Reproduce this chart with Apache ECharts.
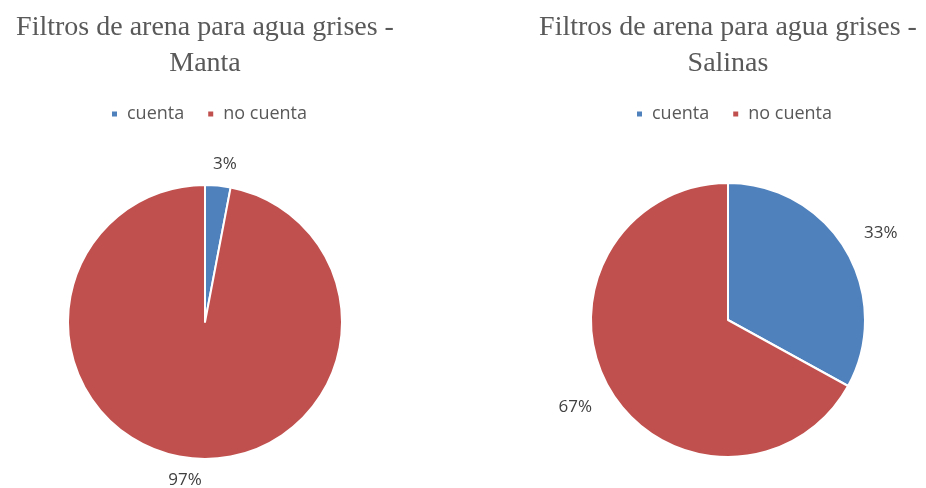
<!DOCTYPE html>
<html>
<head>
<meta charset="utf-8">
<script src="https://cdn.jsdelivr.net/npm/echarts@6/dist/echarts.min.js"></script>
<style>
  html, body { margin: 0; padding: 0; background: #fff; }
  #chart { width: 926px; height: 488px; }
</style>
</head>
<body>
<div id="chart"></div>
<script>
const categories = ['cuenta', 'no cuenta'];
const mantaValues = [3, 97];
const salinasValues = [33, 67];
const titles = ['Filtros de arena para agua grises -\nManta', 'Filtros de arena para agua grises -\nSalinas'];
const colors = ['#4F81BD', '#C0504D'];

const chart = echarts.init(document.getElementById('chart'));

// put the percentage just outside the slice, centred on its radial line (like Excel "outside end")
function outsideEnd(center) {
  return function (params) {
    const r = params.labelRect;
    const ax = params.align === 'right' ? r.x + r.width : r.x;
    const ay = r.y + r.height / 2;
    const vx = ax - center[0], vy = ay - center[1];
    const d = Math.sqrt(vx * vx + vy * vy);
    const ux = vx / d, uy = vy / d;
    const nd = d + (r.width / 2) * Math.abs(ux);
    return { x: center[0] + ux * nd, y: center[1] + uy * nd, align: 'center', verticalAlign: 'middle' };
  };
}

function pieSeries(name, values, center) {
  return {
    name: name,
    type: 'pie',
    radius: 137,
    center: center,
    startAngle: 90,
    clockwise: true,
    avoidLabelOverlap: false,
    data: categories.map((c, i) => ({ name: c, value: values[i] })),
    itemStyle: { borderColor: '#fff', borderWidth: 2 },
    label: {
      show: true,
      position: 'outside',
      formatter: '{d}%',
      color: '#404040',
      fontFamily: 'Open Sans',
      fontSize: 17
    },
    labelLine: { show: false, length: 20, length2: 0 },
    labelLayout: outsideEnd(center),
    emphasis: { disabled: true }
  };
}

const titleStyle = { fontFamily: 'Liberation Serif', fontSize: 28, fontWeight: 'normal', color: '#595959', lineHeight: 36 };
const legendText = { fontFamily: 'Open Sans', fontSize: 18, color: '#595959', padding: [0, 0, 0, 4] };

const option = {
  color: colors,
  animation: false,
  title: [
    { text: titles[0], left: 205, top: 10, padding: 0, textAlign: 'center', textStyle: titleStyle },
    { text: titles[1], left: 728, top: 10, padding: 0, textAlign: 'center', textStyle: titleStyle }
  ],
  legend: [
    {
      data: categories, left: 110, top: 105, padding: 0, icon: 'rect',
      itemWidth: 7, itemHeight: 7, itemGap: 22, textStyle: legendText
    },
    {
      data: categories, left: 635, top: 105, padding: 0, icon: 'rect',
      itemWidth: 7, itemHeight: 7, itemGap: 22, textStyle: legendText
    }
  ],
  series: [
    pieSeries('Manta', mantaValues, [205, 322]),
    pieSeries('Salinas', salinasValues, [728, 320])
  ]
};

chart.setOption(option);
</script>
</body>
</html>
